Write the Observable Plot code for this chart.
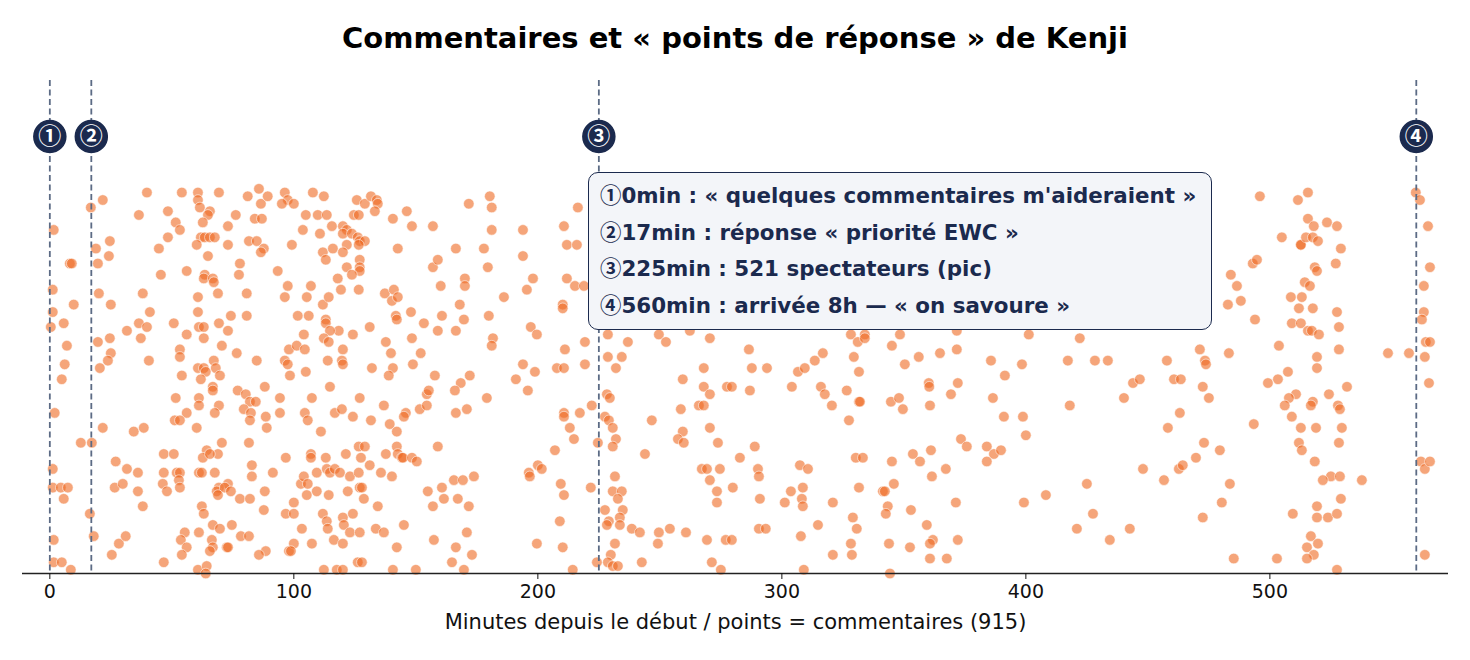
<!DOCTYPE html>
<html><head><meta charset="utf-8">
<script src="https://cdn.jsdelivr.net/npm/d3@7"></script>
<script src="https://cdn.jsdelivr.net/npm/@observablehq/plot@0.6"></script>
<style>
body{margin:0;background:#fff;font-family:"DejaVu Sans","Noto Sans CJK JP",sans-serif;}
#wrap{position:relative;width:1470px;height:660px;overflow:hidden;}
#title{height:60px;box-sizing:border-box;padding-top:18px;line-height:40px;text-align:center;font-weight:bold;font-size:29px;color:#000;}
#note{position:absolute;left:588px;top:172px;width:624px;height:158px;box-sizing:border-box;border:1.6px solid #1b2a4e;border-radius:10px;background:#f3f5f9;padding:5px 0 0 11px;color:#1b2a4e;font-weight:bold;font-size:21.4px;white-space:nowrap;}
#note .row{height:36.7px;line-height:36.7px;overflow:visible;}
#note .c{font-family:"Noto Sans CJK JP",sans-serif;font-weight:bold;line-height:1;}
</style></head>
<body>
<div id="wrap">
<div id="title"></div>
<div id="chart"></div>
<div id="note"></div>
</div>
<script>
const titleText = "Commentaires et « points de réponse » de Kenji";
const xLabel = "Minutes depuis le début / points = commentaires (915)";
const xTicks = [0, 100, 200, 300, 400, 500];
const eventMinutes = [0, 17, 225, 560];
const eventBadges = ["①", "②", "③", "④"];
const noteLines = [
  "0min : « quelques commentaires m'aideraient »",
  "17min : réponse « priorité EWC »",
  "225min : 521 spectateurs (pic)",
  "560min : arrivée 8h — « on savoure »"
];
// [minute, vertical jitter (%)]
const ptsStart = [[1.6,90],[1.2,74],[1.2,68],[0.4,64],[5.7,65],[9.8,70],[8.2,81],[9.0,81],[7.0,59],[6.1,54],[4.9,50],[2.0,41],[12.7,33],[17.2,33],[1.2,26],[1.2,21],[4.5,21],[5.7,18],[7.4,21],[1.6,7],[1.6,1],[4.9,1],[8.6,-1],[16.8,96],[21.7,98],[18.9,85],[24.6,87],[24.2,83],[19.7,81],[20.1,73],[25.0,70],[19.7,60],[24.6,61],[25.0,57],[23.8,55],[20.5,53],[21.7,37],[16.4,14],[18.0,8],[27.0,28],[31.6,26],[36.1,25],[26.6,21],[29.9,22],[36.1,20],[38.1,16],[28.3,6],[31.1,8],[25.4,3],[39.8,100],[36.5,94],[48.4,95],[48.4,88],[44.7,85],[45.5,78],[38.1,73],[41.0,68],[31.6,63],[36.5,65],[39.8,64],[37.3,61],[40.6,55],[34.4,36],[38.5,37],[46.7,30],[46.7,25],[46.3,22],[48.0,20],[46.7,1]];
const ptsUpperMid = [[54.1,100],[60.7,100],[60.7,98],[61.5,96],[65.6,95],[64.8,94],[62.7,92],[69.3,100],[51.6,92],[53.3,90],[61.9,88],[63.5,88],[65.6,88],[67.6,88],[60.2,86],[64.8,83],[73.0,91],[76.2,94],[73.0,86],[81.1,99],[85.7,101],[86.5,97],[89.3,99],[96.3,100],[97.5,98],[95.1,97],[84.0,93],[86.9,93],[81.6,87],[84.8,87],[87.7,85],[86.5,84],[56.1,79],[63.5,78],[63.1,77],[66.8,77],[67.2,76],[77.9,81],[77.5,78],[93.4,79],[97.5,75],[96.3,72],[60.7,72],[68.9,73],[80.7,73],[60.7,68],[74.2,67],[80.7,67],[50.8,65],[61.1,64],[63.1,64],[69.3,65],[73.0,63],[56.1,62],[63.1,61],[53.3,58],[53.3,56],[70.5,59],[76.6,57],[84.8,55],[98.0,58],[96.3,55],[97.5,54],[60.7,53],[63.1,53],[67.2,55],[68.0,53],[63.9,52],[69.7,51],[54.1,51],[61.9,50],[98.4,51]];
const ptsLowerMid = [[51.6,45],[61.1,45],[61.1,43],[56.1,41],[51.2,39],[53.3,39],[60.2,37],[66.8,48],[66.8,47],[69.3,43],[67.6,41],[77.0,47],[80.3,46],[82.0,44],[84.4,44],[79.5,42],[82.4,41],[82.0,39],[88.1,48],[94.3,45],[94.3,41],[88.5,40],[88.9,37],[70.5,33],[64.3,31],[68.9,30],[62.7,29],[65.6,30],[50.8,30],[81.6,33],[96.7,29],[52.0,25],[53.3,25],[52.9,23],[53.3,21],[61.1,25],[62.3,25],[67.6,25],[82.8,27],[82.8,24],[91.4,25],[73.0,22],[69.3,21],[68.4,20],[71.7,21],[74.2,20],[68.9,19],[77.9,18],[82.0,18],[88.1,20],[96.7,14],[87.7,15],[62.3,16],[63.1,14],[66.8,11],[69.7,10],[74.6,11],[55.3,9],[53.7,7],[56.1,5],[54.1,3],[61.1,9],[66.4,7],[66.8,5],[65.6,4],[72.5,5],[73.0,5],[78.3,8],[81.6,8],[88.5,4],[85.7,3],[98.0,4],[60.7,-1],[64.3,0],[63.9,-2]];
const ptsSecondHour = [[107.8,100],[112.3,99],[100.0,97],[125.8,98],[129.1,97],[131.6,99],[134.0,98],[134.4,97],[104.9,94],[109.8,94],[113.5,94],[124.6,94],[126.6,94],[133.2,95],[140.6,93],[146.3,95],[148.4,91],[157.0,91],[171.7,97],[180.3,99],[181.1,96],[181.1,90],[193.9,90],[193.9,83],[103.7,90],[110.7,89],[115.6,91],[120.1,91],[121.7,90],[120.1,89],[123.8,89],[126.2,88],[127.0,87],[129.1,87],[121.7,86],[126.6,86],[99.2,86],[111.9,84],[113.1,82],[116.0,85],[120.1,84],[142.6,85],[127.0,82],[127.0,80],[127.0,79],[121.7,80],[123.8,78],[118.0,77],[157.0,80],[159.0,82],[166.4,85],[177.9,85],[179.5,80],[170.1,77],[170.1,75],[160.2,75],[107.0,75],[119.3,74],[126.6,74],[137.3,73],[141.0,74],[140.2,71],[142.6,72],[198.0,77],[195.5,74],[186.1,72],[105.3,72],[111.9,70],[114.3,72],[101.6,67],[106.1,67],[113.1,66],[113.1,65],[118.4,63],[114.8,63],[141.8,67],[142.2,66],[148.0,68],[153.3,65],[160.7,67],[159.0,63],[168.0,70],[169.7,66],[166.4,63],[179.9,67],[197.1,64],[199.6,62],[104.1,62],[112.3,61],[114.3,60],[124.2,62],[101.2,59],[104.5,58],[120.1,58],[131.1,64],[137.7,60],[148.4,61],[139.8,57],[152.0,57],[181.6,61],[181.1,59],[113.9,55],[119.7,55],[120.1,54],[148.8,54],[140.6,53],[132.0,53],[138.9,51],[157.8,51],[172.1,51],[168.4,49],[166.0,47],[193.9,54],[191.0,50],[198.8,52],[195.9,47],[104.9,52],[114.8,48],[107.4,45],[127.0,45],[136.9,43],[154.5,46],[155.3,47],[151.6,42],[154.5,43],[145.9,41],[145.1,40],[179.1,45],[166.4,41],[170.9,42],[104.5,41],[105.7,39],[116.8,41],[119.7,42],[124.2,40],[131.6,39],[139.3,38],[142.2,36],[111.1,36],[107.0,30],[107.0,29],[113.1,29],[121.3,30],[126.6,32],[129.1,32],[127.5,29],[137.7,30],[142.2,32],[142.6,30],[144.3,29],[144.7,29],[148.4,29],[150.4,28],[159.0,32],[131.1,27],[135.7,25],[140.2,24],[109.4,25],[113.5,26],[114.8,25],[116.8,26],[118.9,25],[123.0,24],[126.6,25],[102.9,22],[104.1,24],[105.7,22],[127.0,21],[127.9,21],[128.7,18],[122.1,20],[114.3,19],[109.4,20],[105.3,19],[100.0,17],[134.4,16],[154.9,20],[160.7,21],[161.5,18],[157.0,16],[167.2,18],[171.7,16],[165.6,23],[169.3,23],[173.8,24],[196.3,25],[196.7,24],[200.0,27],[201.6,26],[100.0,14],[111.9,14],[120.1,13],[124.2,14],[113.5,12],[113.9,10],[120.5,11],[103.3,10],[116.4,7],[123.0,9],[127.0,9],[133.6,10],[136.9,9],[145.1,11],[100.0,6],[107.4,6],[120.1,6],[142.2,5],[157.4,7],[166.4,5],[170.9,9],[173.0,3],[199.6,6],[112.3,-1],[117.6,-1],[120.1,-1],[126.2,1],[127.9,1],[140.6,-1],[150.0,-1],[164.8,1],[169.7,-1],[98.8,4]];
const ptsPeak = [[216.4,96],[210.7,91],[211.9,86],[216.0,86],[211.9,77],[215.2,75],[218.9,75],[210.2,70],[210.2,69],[211.1,58],[219.3,60],[207.8,53],[210.7,53],[219.3,54],[228.7,62],[236.9,60],[249.6,62],[252.5,60],[262.3,63],[270.5,61],[228.7,56],[234.4,56],[232.0,53],[286.5,58],[316.8,57],[313.5,55],[268.0,53],[287.7,53],[293.9,53],[306.6,52],[309.4,53],[259.4,50],[268.0,48],[270.5,46],[277.5,48],[279.5,48],[286.9,47],[304.1,48],[316.0,48],[317.6,46],[320.5,43],[228.3,46],[229.5,45],[222.1,43],[217.2,41],[210.7,41],[210.7,40],[213.1,37],[214.8,34],[207.0,31],[227.5,40],[229.1,39],[230.7,37],[232.0,34],[230.7,32],[224.6,33],[246.7,39],[258.6,42],[266.0,43],[268.0,43],[259.4,36],[257.4,34],[259.8,33],[270.5,37],[273.8,33],[243.9,30],[288.9,32],[282.8,29],[290.2,26],[290.6,24],[274.6,26],[267.2,26],[269.3,26],[270.5,23],[307.4,27],[310.7,26],[231.6,24],[230.7,20],[234.4,20],[232.8,18],[221.7,21],[209.4,22],[210.7,19],[273.4,20],[273.4,17],[279.9,21],[291.0,18],[301.2,17],[303.7,20],[308.6,21],[308.2,18],[308.6,16],[320.9,17],[227.5,15],[234.8,15],[233.6,13],[229.1,12],[228.3,11],[233.6,11],[209.0,12],[238.5,10],[241.8,9],[249.6,9],[254.1,10],[260.7,9],[249.2,6],[269.3,7],[277.0,7],[279.5,7],[290.6,10],[293.4,10],[307.8,8],[314.8,11],[320.9,3],[231.6,6],[229.9,3],[210.2,5],[228.7,1],[230.7,0],[232.8,0],[224.2,1],[242.6,1],[271.3,1],[275.0,-1],[309.0,-1],[214.3,-1]];
const ptsEvening = [[328.3,62],[331.1,60],[334.0,62],[334.0,61],[348.4,62],[371.7,63],[401.2,62],[422.1,61],[345.1,59],[356.1,56],[364.8,57],[371.7,58],[329.5,56],[350.4,54],[385.7,55],[398.4,54],[417.2,55],[428.3,55],[433.6,55],[457.8,55],[471.3,58],[473.4,55],[473.8,54],[331.6,52],[360.2,49],[360.4,48],[372.1,49],[391.4,51],[443.9,49],[446.7,50],[460.7,50],[463.5,50],[472.5,48],[475.0,45],[326.6,47],[331.6,44],[332.0,44],[344.7,44],[348.0,45],[349.6,42],[360.7,43],[369.3,46],[386.5,45],[418.0,43],[440.2,45],[327.5,39],[391.0,40],[398.8,40],[400.0,35],[463.1,41],[458.2,37],[373.4,34],[375.8,32],[384.0,32],[386.9,30],[389.8,31],[384.0,28],[361.1,31],[353.7,30],[356.6,28],[330.3,29],[333.2,29],[345.1,28],[367.2,26],[361.5,24],[473.0,33],[469.7,29],[462.7,26],[464.3,27],[448.0,26],[456.6,23],[425.0,22],[331.6,21],[341.4,20],[342.2,20],[345.9,22],[343.4,16],[342.6,14],[352.9,15],[371.3,17],[399.2,17],[408.2,19],[472.5,13],[329.1,13],[330.7,10],[359.4,11],[361.9,7],[360.7,6],[372.1,7],[427.5,14],[420.9,10],[442.6,10],[434.4,7],[328.3,6],[328.7,3],[343.9,6],[352.5,5],[360.7,2],[367.6,2],[344.3,-2]];
const ptsArrival = [[495.9,99],[515.6,100],[511.5,98],[515.6,93],[518.0,91],[523.4,92],[527.5,91],[504.9,88],[512.7,86],[512.7,86],[514.8,88],[517.6,88],[519.7,87],[529.1,85],[493.0,81],[494.7,82],[518.4,80],[519.3,79],[527.0,81],[484.0,78],[486.5,75],[514.3,76],[516.4,75],[508.6,72],[513.1,72],[482.8,70],[488.1,71],[511.9,69],[517.6,69],[527.5,68],[493.9,66],[509.0,65],[512.7,65],[515.6,63],[517.2,63],[520.1,62],[528.3,64],[503.7,59],[483.2,57],[528.3,58],[519.3,56],[519.3,53],[507.4,52],[503.3,50],[499.2,49],[510.7,46],[507.8,45],[506.1,43],[517.6,44],[516.8,43],[524.2,46],[527.9,43],[528.7,42],[531.6,48],[509.0,40],[512.7,37],[518.9,37],[529.5,37],[493.4,38],[528.3,33],[511.9,33],[513.1,31],[479.5,31],[518.4,28],[525.0,24],[521.7,23],[528.7,24],[537.7,23],[483.6,22],[480.3,17],[529.1,18],[519.3,16],[519.3,13],[523.8,13],[527.5,14],[509.4,14],[516.8,8],[519.7,6],[515.2,5],[518.0,3],[515.2,2],[485.2,2],[502.9,2],[527.5,-1],[559.8,100],[561.5,98],[564.8,91],[565.6,80],[563.1,75],[563.1,68],[562.3,66],[563.9,60],[565.6,60],[563.5,56],[565.2,49],[548.4,57],[557.0,57],[561.9,28],[563.5,26],[565.6,28],[563.5,3]];
const points = [].concat(ptsStart, ptsUpperMid, ptsLowerMid, ptsSecondHour, ptsPeak, ptsEvening, ptsArrival);

const xDomain = [-11.2, 573.2];
const yDomain = [-2, 130];
const badgeLevel = 115;
const events = eventMinutes.map((m, i) => ({min: m, badge: eventBadges[i]}));
const font = '"DejaVu Sans", "Noto Sans CJK JP", sans-serif';

document.getElementById("title").textContent = titleText;
const note = document.getElementById("note");
noteLines.forEach((s, i) => {
  const row = document.createElement("div");
  row.className = "row";
  const c = document.createElement("span");
  c.className = "c";
  c.textContent = eventBadges[i];
  row.appendChild(c);
  row.appendChild(document.createTextNode(s));
  note.appendChild(row);
});

const chart = Plot.plot({
  width: 1470, height: 600,
  marginTop: 20, marginBottom: 87, marginLeft: 22, marginRight: 22,
  style: {fontFamily: font, fontSize: "19px", color: "#111", background: "transparent", overflow: "visible"},
  x: {domain: xDomain, label: null},
  y: {domain: yDomain, axis: null},
  marks: [
    Plot.dot(points, {x: d => d[0], y: d => d[1], r: 5.3, fill: "#ee6921", fillOpacity: 0.6, stroke: "#ffffff", strokeWidth: 0.8, strokeOpacity: 0.7}),
    Plot.ruleX(events, {x: "min", stroke: "#5c6b85", strokeWidth: 1.8, strokeDasharray: "6,3.5"}),
    Plot.dot(events, {x: "min", y: () => badgeLevel, r: 16, fill: "#1b2a4e", stroke: "#1b2a4e"}),
    Plot.text(events, {x: "min", y: () => badgeLevel, text: "badge", fill: "#ffffff", fontSize: 23, fontWeight: "bold", fontFamily: '"Noto Sans CJK JP", sans-serif'}),
    Plot.ruleY([yDomain[0]], {stroke: "#222", strokeWidth: 1.5}),
    Plot.axisX({ticks: xTicks, tickSize: 6, tickPadding: 5, fontSize: 19, label: null}),
    Plot.text([xLabel], {frameAnchor: "bottom", dy: 55, fontSize: 21, fill: "#111"})
  ]
});
document.getElementById("chart").appendChild(chart);
</script>
</body></html>
